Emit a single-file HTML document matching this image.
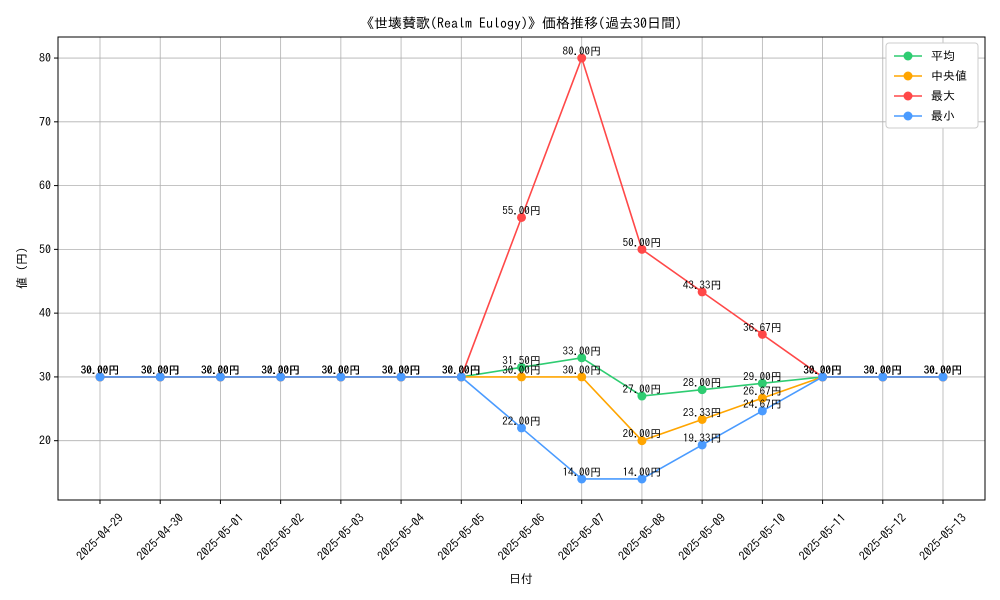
<!DOCTYPE html>
<html><head><meta charset="utf-8"><style>
body{margin:0;background:#fff;}
svg{display:block;font-family:"IPAGothic","Liberation Sans","Noto Sans CJK JP",sans-serif;}
</style></head><body>
<svg id="chart" width="1000" height="600"></svg>
<script>
const categories=["2025-04-29","2025-04-30","2025-05-01","2025-05-02","2025-05-03","2025-05-04","2025-05-05","2025-05-06","2025-05-07","2025-05-08","2025-05-09","2025-05-10","2025-05-11","2025-05-12","2025-05-13"];
const avgValues=[30,30,30,30,30,30,30,31.5,33,27,28,29,30,30,30];
const medianValues=[30,30,30,30,30,30,30,30,30,20,23.33,26.67,30,30,30];
const maxValues=[30,30,30,30,30,30,30,55,80,50,43.33,36.67,30,30,30];
const minValues=[30,30,30,30,30,30,30,22,14,14,19.33,24.67,30,30,30];
const yTicks=[20,30,40,50,60,70,80];
const seriesNames=["平均","中央値","最大","最小"];

const NS="http://www.w3.org/2000/svg";
const svg=document.getElementById('chart');
const L=58,R=985,T=37,B=500,yMin=10.7,yMax=83.3;
const x=i=>100+i*(943-100)/(categories.length-1);
const y=v=>B-(v-yMin)/(yMax-yMin)*(B-T);
function mk(tag,attrs,parent){const e=document.createElementNS(NS,tag);for(const k in attrs)e.setAttribute(k,attrs[k]);(parent||svg).appendChild(e);return e;}

const title=mk('text',{x:521,y:28,'text-anchor':'middle','font-size':14,fill:'#000'});


title.textContent="《世壊賛歌(Realm Eulogy)》価格推移(過去30日間)";

const grid=mk('g',{});


categories.forEach((c,i)=>{
  mk('line',{x1:x(i),x2:x(i),y1:T,y2:B,stroke:'#b0b0b0','stroke-width':0.8},grid);
  mk('line',{x1:x(i),x2:x(i),y1:B,y2:B+4,stroke:'#000'},grid);
  const cy=537;
  const t=mk('text',{x:x(i),y:cy+4,'text-anchor':'middle','font-size':12,transform:`rotate(-45 ${x(i)} ${cy})`});
  
  
  t.textContent=c;
});
yTicks.forEach(v=>{
  mk('line',{x1:L,x2:R,y1:y(v),y2:y(v),stroke:'#b0b0b0','stroke-width':0.8},grid);
  mk('line',{x1:L-4,x2:L,y1:y(v),y2:y(v),stroke:'#000'},grid);
  const t=mk('text',{x:L-7,y:y(v)+4,'text-anchor':'end','font-size':12});
  
  
  t.textContent=v;
});
const frame=mk('rect',{x:L,y:T,width:R-L,height:B-T,fill:'none',stroke:'#000','stroke-width':1});



const xl=mk('text',{x:521,y:583,'text-anchor':'middle','font-size':12});


xl.textContent="日付";
const yl=mk('text',{x:26,y:268,'text-anchor':'middle','font-size':12,transform:'rotate(-90 26 268)'});


yl.textContent="値 (円)";

const series=[[avgValues,'#2ecc71'],[medianValues,'#ffa500'],[maxValues,'#ff4848'],[minValues,'#4a9bff']];
series.forEach(([vals,col],si)=>{
  const g=mk('g',{});
  
  
  mk('polyline',{points:vals.map((v,i)=>x(i)+','+y(v)).join(' '),fill:'none',stroke:col,'stroke-width':1.6},g);
  vals.forEach((v,i)=>{
    const c=mk('circle',{cx:x(i),cy:y(v),r:4.5,fill:col},g);
    
    
    const t=mk('text',{x:x(i),y:y(v)-3,'text-anchor':'middle','font-size':11,fill:'#000'},g);
    
    
    t.textContent=v.toFixed(2)+"円";
  });
});

const lg=mk('g',{});


mk('rect',{x:886,y:43,width:92,height:85,rx:3,fill:'#fff',stroke:'#ccc'},lg);
series.forEach(([v,col],i)=>{
  const yy=56+i*20;
  const e=mk('g',{},lg);
  
  
  mk('line',{x1:894,x2:922,y1:yy,y2:yy,stroke:col,'stroke-width':1.6},e);
  mk('circle',{cx:908,cy:yy,r:4.5,fill:col},e);
  const t=mk('text',{x:931,y:yy+4,'font-size':12},e);
  t.textContent=seriesNames[i];
});
</script>
</body></html>
